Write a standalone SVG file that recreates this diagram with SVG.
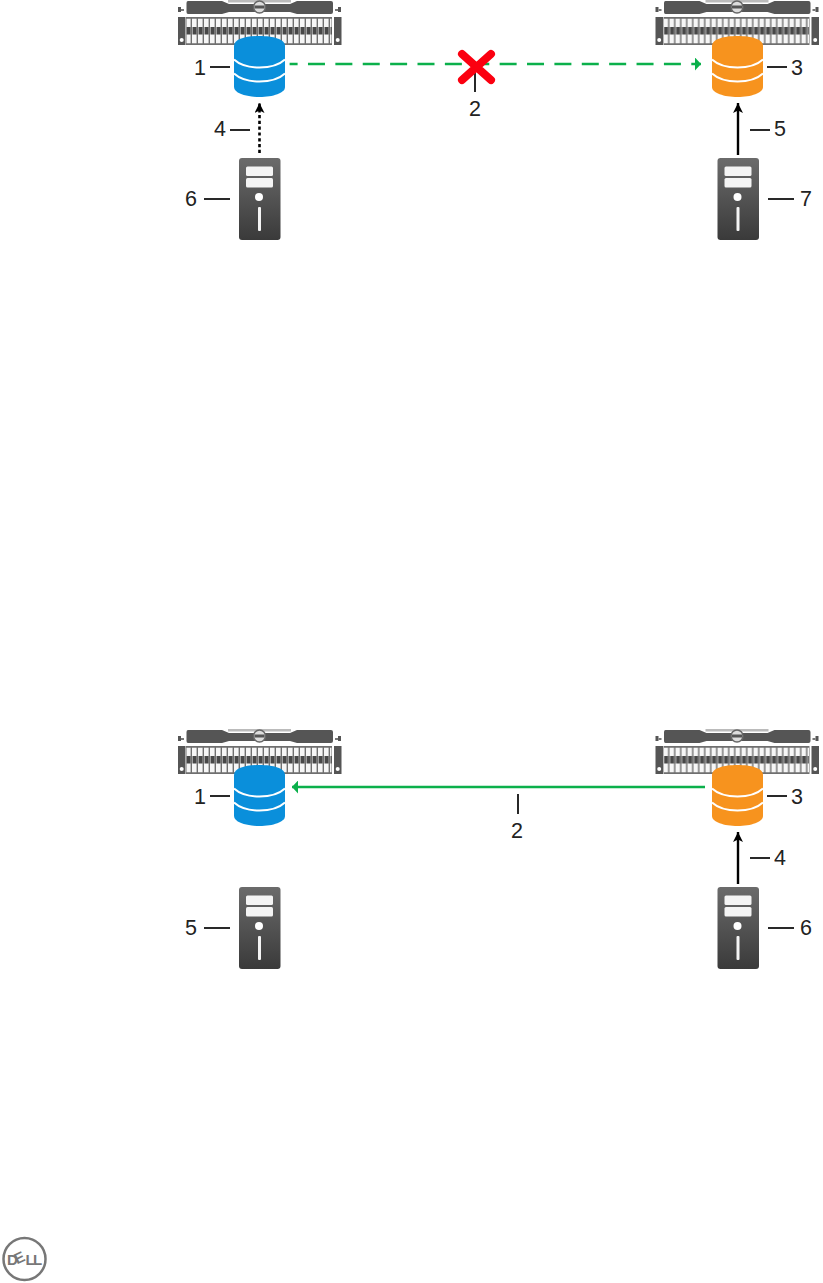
<svg xmlns="http://www.w3.org/2000/svg" width="823" height="1283" viewBox="0 0 823 1283">
<style>
text{font-family:"Liberation Sans",Arial,sans-serif;font-size:21.5px;fill:#222;text-anchor:middle}
.lead{stroke:#111;stroke-width:1.8;fill:none}
.blk{stroke:#000;stroke-width:2.4;fill:none}
.dot{stroke:#000;stroke-width:2.6;fill:none;stroke-dasharray:3.2 2.6}
.grn{stroke:#0bb04b;stroke-width:2.5;fill:none}
.dash{stroke-dasharray:17 10.38;stroke-dashoffset:9}
.x{stroke:#fb0010;stroke-width:8;stroke-linecap:round;fill:none}
.w{stroke:#fff;stroke-width:2;fill:none}
</style>
<defs>
<marker id="ah" markerUnits="userSpaceOnUse" markerWidth="12" markerHeight="10" refX="10" refY="5" orient="auto"><path d="M0 0 L10 5 L0 10 L2.500 5Z" fill="#000"/></marker>
<marker id="ag" markerUnits="userSpaceOnUse" markerWidth="8" markerHeight="13" refX="6" refY="6.5" orient="auto"><path d="M0 0 L6 6.500 L0 13Z" fill="#0bb04b"/></marker>
<linearGradient id="sv" x1="0" y1="0" x2="0" y2="1"><stop offset="0" stop-color="#6b6b6b"/><stop offset="1" stop-color="#3a3a3a"/></linearGradient>
<pattern id="drv" x="186" y="0" width="6" height="46" patternUnits="userSpaceOnUse"><rect width="6" height="46" fill="#6f6f6f"/><rect x="0" y="18.500" width="4.600" height="25" fill="#f6f6f6"/><rect x="0.500" y="27" width="4.100" height="7.500" fill="#474747"/></pattern>
<g id="rack">
<path d="M188 1H222L229 4H290L297 1H331Q333 1 333 3V12Q333 14 331 14H297L290 12H229L222 14H188Q186.500 14 186.500 12V3Q186.500 1 188 1Z" fill="#555"/>
<rect x="228" y="0" width="63" height="2.500" fill="#bbb"/>
<circle cx="259.500" cy="7" r="6" fill="#ddd" stroke="#666" stroke-width="1.500"/>
<rect x="254.500" y="5.500" width="10" height="3" fill="#555"/>
<rect x="178" y="7" width="3" height="5" fill="#555"/><rect x="181" y="9" width="3" height="2" fill="#777"/>
<rect x="338" y="7" width="3" height="5" fill="#555"/><rect x="335" y="9" width="3" height="2" fill="#777"/>
<rect x="178" y="17" width="7.500" height="28" fill="#555"/><circle cx="181.700" cy="40" r="2" fill="#fff"/>
<rect x="334" y="17" width="7.500" height="28" fill="#555"/><circle cx="337.700" cy="40" r="2" fill="#fff"/>
<rect x="186" y="17" width="146" height="28" fill="#6f6f6f"/>
<rect x="186.500" y="18.500" width="145" height="25" fill="url(#drv)"/>
</g>
<g id="srv">
<rect x="239" y="158" width="41.500" height="82" rx="3" fill="url(#sv)"/>
<rect x="246" y="166.500" width="27" height="9.500" rx="1.500" fill="#f4f4f4"/>
<rect x="246" y="178" width="27" height="9.500" rx="1.500" fill="#f4f4f4"/>
<circle cx="259" cy="197" r="4" fill="#fff"/>
<rect x="258" y="207" width="3" height="24" rx="1" fill="#f4f4f4"/>
</g>
<g id="cyl">
<path d="M234 46C234 39 246 36 259.500 36S285 39 285 46V87C285 93 273 97 259.500 97S234 93 234 87Z"/>
<path class="w" d="M234 59.500C240 65 250 67.500 259.500 67.500S279 65 285 59.500"/>
<path class="w" d="M234 73.500C240 79 250 81.500 259.500 81.500S279 79 285 73.500"/>
</g>
</defs>
<rect width="823" height="1283" fill="#fff"/>

<g id="connectors">
<path class="grn dash" d="M289.600 64H701" marker-end="url(#ag)"/>
<path class="dot" d="M259.500 153V103" marker-end="url(#ah)"/>
<path class="blk" d="M738 155V103" marker-end="url(#ah)"/>
<path class="grn" d="M705 787H292" marker-end="url(#ag)"/>
<path class="blk" d="M738 884V832" marker-end="url(#ah)"/>
</g>

<g id="a-storage-1"><use href="#rack"/><use href="#cyl" fill="#0a8fdb"/><path class="lead" d="M210 67H230"/><text x="200" y="75">1</text></g>
<g id="a-storage-3"><use href="#rack" x="477.500"/><use href="#cyl" x="478" fill="#f7931e"/><path class="lead" d="M767 67H787"/><text x="797" y="75">3</text></g>
<g id="a-fail"><path class="lead" d="M475 72V92"/><path class="x" d="M462 54L491 80M491 54L462 80"/><text x="475" y="115.500">2</text></g>
<g id="a-link-4"><path class="lead" d="M230 130H250"/><text x="220" y="136">4</text></g>
<g id="a-link-5"><path class="lead" d="M750 130H770"/><text x="780" y="136">5</text></g>
<g id="a-host-6"><use href="#srv"/><path class="lead" d="M204 199H230"/><text x="191" y="206">6</text></g>
<g id="a-host-7"><use href="#srv" x="478.500"/><path class="lead" d="M768 199H794"/><text x="806" y="206">7</text></g>

<g id="b-storage-1"><use href="#rack" y="729"/><use href="#cyl" y="729" fill="#0a8fdb"/><path class="lead" d="M210 796H230"/><text x="200" y="804">1</text></g>
<g id="b-storage-3"><use href="#rack" x="477.500" y="729"/><use href="#cyl" x="478" y="729" fill="#f7931e"/><path class="lead" d="M767 796H787"/><text x="797" y="804">3</text></g>
<g id="b-link-2"><path class="lead" d="M518 794V814"/><text x="517" y="837.500">2</text></g>
<g id="b-link-4"><path class="lead" d="M750 858H770"/><text x="780" y="865">4</text></g>
<g id="b-host-5"><use href="#srv" y="729"/><path class="lead" d="M204 928H230"/><text x="191" y="935">5</text></g>
<g id="b-host-6"><use href="#srv" x="478.500" y="729"/><path class="lead" d="M768 928H794"/><text x="806" y="935">6</text></g>

<g id="dell-logo"><circle cx="24.500" cy="1259" r="21" fill="none" stroke="#777" stroke-width="2.500"/>
<text x="7 17 25.500 33" y="1264.500" rotate="0 -25 0 0" style="font-size:15px;font-weight:bold;fill:#777;text-anchor:start">DELL</text></g>
</svg>
